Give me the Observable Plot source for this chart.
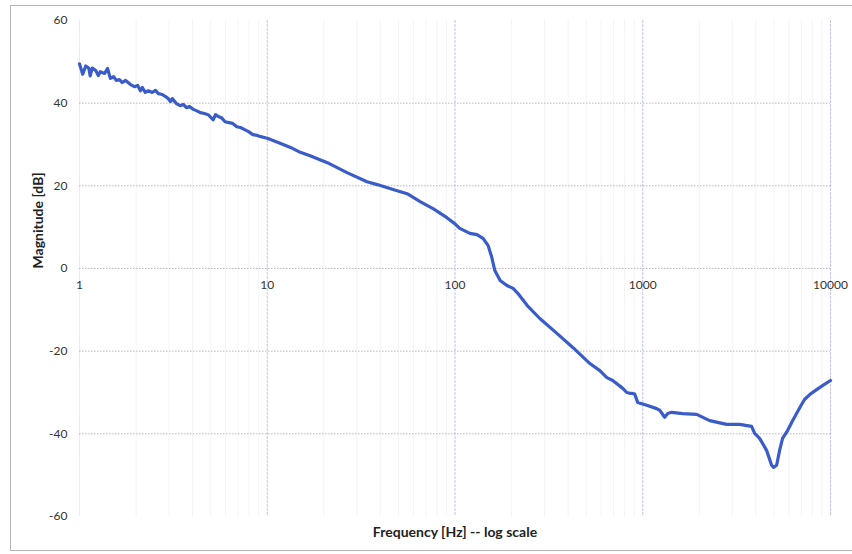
<!DOCTYPE html>
<html>
<head>
<meta charset="utf-8">
<script src="https://cdn.jsdelivr.net/npm/d3@7"></script>
<script src="https://cdn.jsdelivr.net/npm/@observablehq/plot@0.6"></script>
<style>
  html, body { margin: 0; padding: 0; background: #fff; }
  #wrap { position: relative; width: 852px; height: 554px; }
  #frame { position: absolute; left: 10px; top: 5px; width: 850px; height: 546px; border: 1px solid #b4b4b4; box-sizing: border-box; pointer-events: none; }
</style>
</head>
<body>
<div id="wrap"><div id="frame"></div></div>
<script>
// Frequency (Hz) and magnitude (dB)
const freq = [1, 1.04, 1.08, 1.12, 1.14, 1.17, 1.22, 1.26, 1.29, 1.36, 1.41, 1.46, 1.52, 1.57, 1.63, 1.69, 1.76, 1.87, 1.96, 2.04, 2.11, 2.16, 2.24, 2.33, 2.44, 2.54, 2.63, 2.76, 2.87, 2.97, 3.05, 3.12, 3.28, 3.44, 3.57, 3.71, 3.85, 4.04, 4.19, 4.40, 4.62, 4.85, 5.02, 5.16, 5.30, 5.48, 5.70, 5.96, 6.25, 6.55, 6.88, 7.20, 7.58, 7.95, 8.38, 8.84, 9.25, 9.62, 10, 10.4, 11.7, 13.3, 15.0, 16.9, 20.9, 26.6, 34.0, 38.5, 46.8, 55.6, 65.2, 76.4, 90.6, 100, 106, 120, 131, 141, 150, 157, 163, 174, 189, 204, 216, 242, 283, 349, 424, 523, 591, 644, 692, 783, 822, 853, 874, 906, 940, 1050, 1186, 1231, 1309, 1358, 1426, 1632, 1938, 2271, 2797, 3281, 3800, 3945, 4193, 4567, 4856, 4977, 5165, 5357, 5555, 5907, 6250, 6594, 6950, 7271, 7750, 8433, 9150, 10000];
const magnitude = [49.5, 47.0, 49.0, 48.5, 46.6, 48.5, 47.9, 46.7, 47.6, 47.2, 48.4, 46.0, 46.4, 45.5, 45.7, 45.0, 45.5, 44.5, 44.0, 44.3, 43.0, 43.8, 42.6, 43.0, 42.6, 43.1, 42.3, 42.1, 41.6, 41.1, 40.4, 41.1, 39.9, 39.4, 39.7, 38.9, 39.2, 38.5, 38.2, 37.7, 37.5, 37.2, 36.5, 36.0, 37.2, 36.8, 36.5, 35.5, 35.3, 35.1, 34.3, 34.1, 33.6, 33.1, 32.4, 32.2, 31.9, 31.7, 31.5, 31.2, 30.3, 29.3, 28.1, 27.3, 25.6, 23.2, 21.0, 20.3, 19.1, 18.1, 16.2, 14.5, 12.3, 10.8, 9.7, 8.5, 8.2, 7.3, 5.6, 2.7, -0.5, -2.9, -4.1, -4.8, -6.0, -8.9, -12.1, -15.7, -19.1, -23.0, -24.7, -26.4, -27.1, -29.0, -30.0, -30.2, -30.2, -30.4, -32.4, -33.1, -33.9, -34.3, -36.0, -35.1, -34.8, -35.1, -35.3, -36.8, -37.7, -37.7, -38.2, -39.9, -41.1, -44.0, -47.6, -48.1, -47.6, -44.0, -41.1, -39.2, -37.0, -35.1, -33.2, -31.7, -30.5, -29.3, -28.2, -27.1];

const xTicks = [1, 10, 100, 1000, 10000];
const xTickLabels = ["1", "10", "100", "1000", "10000"];
const yTicks = [-60, -40, -20, 0, 20, 40, 60];
const yTickLabels = ["-60", "-40", "-20", "0", "20", "40", "60"];
const yGrid = [-40, -20, 0, 20, 40];
const xGridMajor = [10, 100, 1000, 10000];
const xGridMinor = [2,3,4,5,6,7,8,9,20,30,40,50,60,70,80,90,200,300,400,500,600,700,800,900,2000,3000,4000,5000,6000,7000,8000,9000];

const data = freq.map((f, i) => ({f, m: magnitude[i]}));
const tickData = xTicks.map((t, i) => ({t, label: xTickLabels[i]}));

const chart = Plot.plot({
  width: 852,
  height: 554,
  marginLeft: 79,
  marginRight: 22,
  marginTop: 20,
  marginBottom: 38,
  style: {fontFamily: "Lato, 'Open Sans', sans-serif", background: "transparent"},
  x: {type: "log", domain: [1, 10000]},
  y: {domain: [-60, 60]},
  marks: [
    Plot.ruleX(xGridMinor, {stroke: "#f4f4f8", strokeWidth: 1}),
    Plot.ruleX([1], {stroke: "#ececf2", strokeWidth: 1}),
    Plot.ruleX(xGridMajor, {stroke: "#c4c4ee", strokeWidth: 1, strokeDasharray: "3,1"}),
    Plot.ruleY(yGrid, {stroke: "#b8b8c4", strokeWidth: 1, strokeDasharray: "1.5,1.5"}),
    Plot.axisY({ticks: yTicks, tickFormat: d => yTickLabels[yTicks.indexOf(d)], tickSize: 0, tickPadding: 12, label: null, fontSize: 12, color: "#333"}),
    Plot.axisX({ticks: [], label: null, tickSize: 0}),
    Plot.text(tickData, {x: "t", y: 0, text: "label", dy: 17, fontSize: 12, fill: "#333"}),
    Plot.line(data, {x: "f", y: "m", stroke: "#3a5cc8", strokeWidth: 3.2, strokeLinejoin: "round", strokeLinecap: "round"}),
    Plot.text(["Magnitude [dB]"], {frameAnchor: "left", dx: -41, rotate: -90, text: d => d, fontSize: 14, fontWeight: "bold", fill: "#222"}),
    Plot.text(["Frequency [Hz] -- log scale"], {frameAnchor: "bottom", dy: 20, text: d => d, fontSize: 14, fontWeight: "bold", fill: "#222"})
  ]
});
document.getElementById("wrap").prepend(chart);
</script>
</body>
</html>
